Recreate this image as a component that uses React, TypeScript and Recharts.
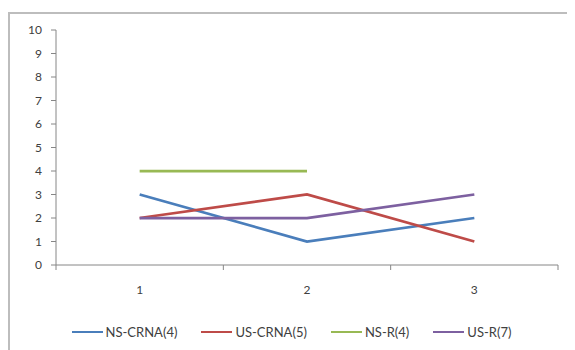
import { LineChart, Line, XAxis, YAxis } from 'recharts'

// categorias y valores
const categories = [1, 2, 3]
const nsCrna = [3, 1, 2]
const usCrna = [2, 3, 1]
const nsR: (number | null)[] = [4, 4, null]
const usR = [2, 2, 3]
const yTicks = [0, 1, 2, 3, 4, 5, 6, 7, 8, 9, 10]
const xTicks = [0.5, 1, 1.5, 2, 2.5, 3, 3.5]

const series = [
  { key: 'nsCrna', name: 'NS-CRNA(4)', color: '#4A7EBB', values: nsCrna },
  { key: 'usCrna', name: 'US-CRNA(5)', color: '#BE4B48', values: usCrna },
  { key: 'nsR', name: 'NS-R(4)', color: '#98B954', values: nsR },
  { key: 'usR', name: 'US-R(7)', color: '#7D60A0', values: usR },
]

const data = categories.map((x, i) => {
  const row: any = { x }
  series.forEach((s) => {
    row[s.key] = s.values[i]
  })
  return row
})

const FONT = 'Lato, "Open Sans", sans-serif'
const AXIS = '#868686'
const TEXT = '#404040'

// etiquetas en el centro, marcas entre categorias (estilo Excel)
const XTick = ({ x, y, payload }: any) => {
  if (Number.isInteger(payload.value)) {
    return (
      <text x={x} y={y} dy={29} textAnchor="middle" fill={TEXT} fontSize={12} fontFamily={FONT}>
        {payload.value}
      </text>
    )
  }
  return <line x1={x} x2={x} y1={y} y2={y + 5} stroke={AXIS} />
}

export default function App() {
  return (
    <div
      style={{
        position: 'relative',
        marginTop: 4,
        width: 563,
        height: 345,
        borderTop: '2px solid #bdbdbd',
        borderLeft: '2px solid #bdbdbd',
        borderRight: '1px solid #e4e4e4',
        background: '#fff',
        fontFamily: FONT,
      }}
    >
      <LineChart width={563} height={300} data={data} margin={{ top: 16, right: 15, left: 0, bottom: 0 }}>
        <XAxis
          dataKey="x"
          type="number"
          domain={[0.5, 3.5]}
          ticks={xTicks}
          interval={0}
          height={49}
          tickLine={false}
          tickSize={0}
          tickMargin={0}
          tick={<XTick />}
          axisLine={{ stroke: AXIS }}
        />
        <YAxis
          domain={[0, 10]}
          ticks={yTicks}
          interval={0}
          width={46}
          tickSize={5}
          tickMargin={9}
          tickLine={{ stroke: AXIS }}
          axisLine={{ stroke: AXIS }}
          tick={{ fill: TEXT, fontSize: 12, fontFamily: FONT }}
        />
        {series.map((s) => (
          <Line
            key={s.key}
            dataKey={s.key}
            name={s.name}
            stroke={s.color}
            strokeWidth={2.75}
            dot={false}
            activeDot={false}
            connectNulls={false}
            isAnimationActive={false}
          />
        ))}
      </LineChart>

      {/* leyenda */}
      <div style={{ display: 'flex', justifyContent: 'center', gap: 24, marginTop: 10 }}>
        {series.map((s) => (
          <div key={s.key} style={{ display: 'flex', alignItems: 'center', gap: 3 }}>
            <div style={{ width: 31, height: 2, backgroundColor: s.color }} />
            <span style={{ fontSize: 13, color: TEXT, lineHeight: '16px' }}>{s.name}</span>
          </div>
        ))}
      </div>
    </div>
  )
}
